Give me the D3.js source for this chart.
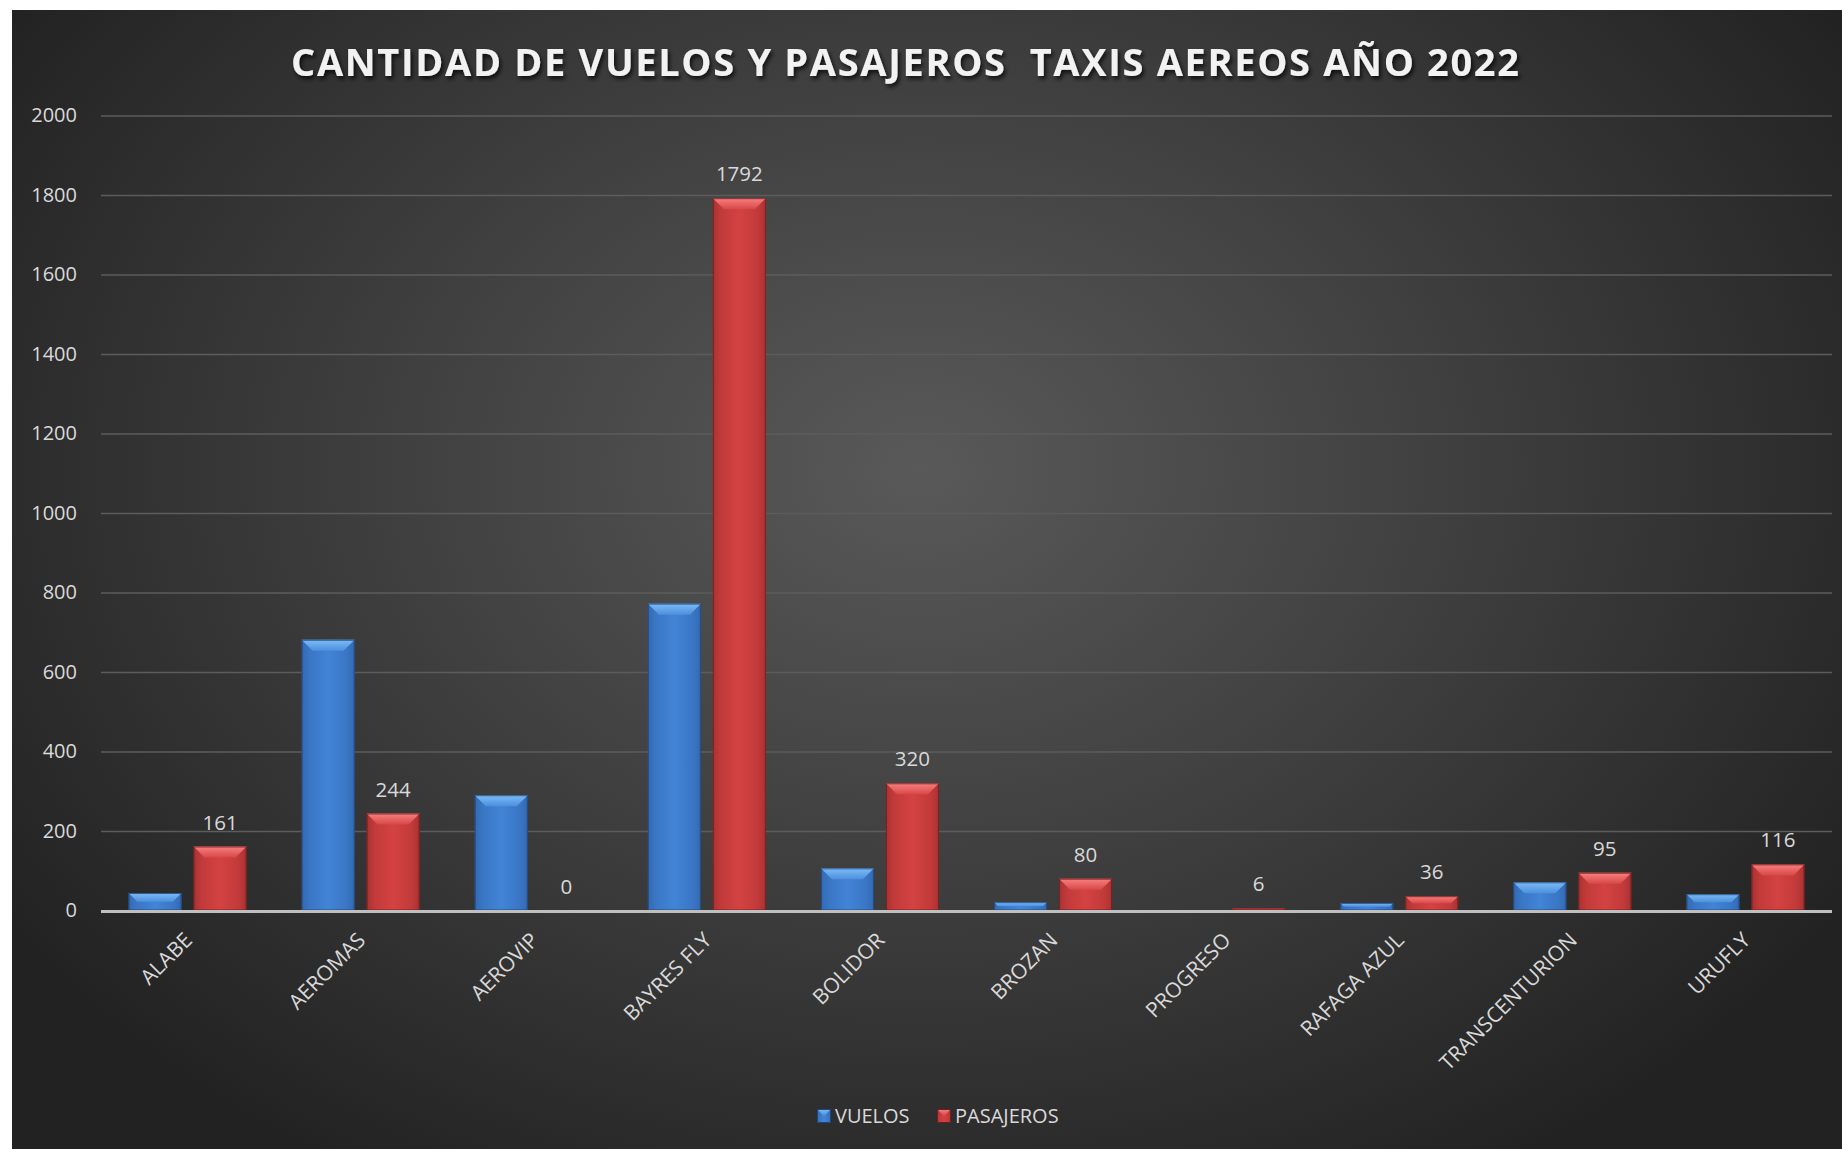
<!DOCTYPE html>
<html><head><meta charset="utf-8">
<script src="https://cdn.jsdelivr.net/npm/d3@7"></script>
<style>html,body{margin:0;padding:0;background:#fff;overflow:hidden}</style>
</head><body>
<svg id="chart" width="1842" height="1149"></svg>
<script>
const categories = ["ALABE","AEROMAS","AEROVIP","BAYRES FLY","BOLIDOR","BROZAN","PROGRESO","RAFAGA AZUL","TRANSCENTURION","URUFLY"];
const seriesNames = ["VUELOS","PASAJEROS"];
const vuelos = [44, 681, 290, 772, 106, 21, 1, 19, 71, 41];
const pasajeros = [161, 244, 0, 1792, 320, 80, 6, 36, 95, 116];
const yTicks = [0,200,400,600,800,1000,1200,1400,1600,1800,2000];
const titleText = "CANTIDAD DE VUELOS Y PASAJEROS  TAXIS AEREOS AÑO 2022";

(function(){
const W = 1842, H = 1149;
const svg = d3.select("#chart");
const defs = svg.append("defs");

const bg = defs.append("radialGradient").attr("id","bg")
  .attr("gradientUnits","userSpaceOnUse").attr("cx",920).attr("cy",470).attr("r",1100)
  .attr("gradientTransform","translate(920,470) scale(1,0.75) translate(-920,-470)");
bg.append("stop").attr("offset","0").attr("stop-color","#595959");
bg.append("stop").attr("offset","0.45").attr("stop-color","#414141");
bg.append("stop").attr("offset","1").attr("stop-color","#222222");
svg.append("rect").attr("x",12).attr("y",10).attr("width",W-12).attr("height",H-10).attr("fill","url(#bg)");

const shadow = defs.append("filter").attr("id","tshadow").attr("x","-5%").attr("y","-30%").attr("width","110%").attr("height","160%");
shadow.append("feDropShadow").attr("dx",2).attr("dy",3).attr("stdDeviation",2).attr("flood-color","#000").attr("flood-opacity",0.75);

const palettes = {
  VUELOS:   {body:["#3469b4","#4284d6","#3a76c4"], top:["#7cbcf8","#4c90dc"], edge:"#1f4577"},
  PASAJEROS:{body:["#a83232","#d44242","#c23a3a"], top:["#f88080","#d84848"], edge:"#6f1c1c"}
};
seriesNames.forEach(s=>{
  const p = palettes[s];
  const g = defs.append("linearGradient").attr("id","body-"+s).attr("x1",0).attr("x2",1).attr("y1",0).attr("y2",0);
  g.append("stop").attr("offset",0).attr("stop-color",p.body[0]);
  g.append("stop").attr("offset",0.15).attr("stop-color",p.body[2]);
  g.append("stop").attr("offset",0.5).attr("stop-color",p.body[1]);
  g.append("stop").attr("offset",0.85).attr("stop-color",p.body[2]);
  g.append("stop").attr("offset",1).attr("stop-color",p.body[0]);
  const t = defs.append("linearGradient").attr("id","top-"+s).attr("x1",0).attr("x2",0).attr("y1",0).attr("y2",1);
  t.append("stop").attr("offset",0).attr("stop-color",p.top[0]);
  t.append("stop").attr("offset",1).attr("stop-color",p.top[1]);
});

const pLeft = 101, pRight = 1832, pTop = 115.5, pBottom = 910.5;
const y = d3.scaleLinear().domain([0,2000]).range([pBottom, pTop]);
const x0 = d3.scaleBand().domain(categories).range([pLeft,pRight]);
const x1 = d3.scaleBand().domain(seriesNames)
  .range([x0.bandwidth()/2-59, x0.bandwidth()/2+59]).paddingInner(12/65).paddingOuter(0);

const grid = svg.append("g").attr("transform",`translate(${pLeft},0)`)
  .call(d3.axisLeft(y).tickValues(yTicks.filter(t=>t>0)).tickSize(-(pRight-pLeft)).tickFormat(""));
grid.select(".domain").remove();
grid.selectAll(".tick line").attr("stroke","#5c5c5c").attr("stroke-width",1.6);

const yAxis = svg.append("g").attr("transform",`translate(${pLeft},0)`)
  .call(d3.axisLeft(y).tickValues(yTicks).tickFormat(d3.format("d")).tickSize(0).tickPadding(24));
yAxis.select(".domain").remove();
yAxis.selectAll("text").attr("fill","#d9d9d9").attr("font-family","'Open Sans', sans-serif").attr("font-size",20);

const rows = categories.map((c,i)=>({cat:c, VUELOS:vuelos[i], PASAJEROS:pasajeros[i]}));
const barsG = svg.append("g");
rows.forEach(r=>{
  seriesNames.forEach(s=>{
    const v = r[s];
    if (v <= 0) return;
    const p = palettes[s];
    const bx = x0(r.cat) + x1(s), bw = x1.bandwidth();
    const by = y(v), bh = pBottom - y(v);
    const g = barsG.append("g");
    g.append("rect").attr("x",bx).attr("y",by).attr("width",bw).attr("height",bh)
      .attr("fill","url(#body-"+s+")");
    const b = Math.min(11, bh/2);
    const sb = b;
    g.append("path").attr("d",`M${bx},${by}L${bx+bw},${by}L${bx+bw-sb},${by+b}L${bx+sb},${by+b}Z`).attr("fill","url(#top-"+s+")");
    g.append("rect").attr("x",bx+0.5).attr("y",by+0.5).attr("width",Math.max(0,bw-1)).attr("height",Math.max(0,bh-1))
      .attr("fill","none").attr("stroke",p.edge).attr("stroke-width",1).attr("opacity",0.8);
  });
});

svg.append("line").attr("x1",pLeft).attr("x2",pRight).attr("y1",pBottom+1).attr("y2",pBottom+1)
  .attr("stroke","#bfbfbf").attr("stroke-width",3);

svg.append("g").selectAll("text").data(rows).join("text")
  .attr("x",d=>x0(d.cat)+x1("PASAJEROS")+x1.bandwidth()/2)
  .attr("y",d=>y(d.PASAJEROS)-17)
  .attr("text-anchor","middle").attr("fill","#d9d9d9")
  .attr("font-family","'Open Sans', sans-serif").attr("font-size",20.5)
  .text(d=>d.PASAJEROS);

const xAxis = svg.append("g").attr("transform",`translate(0,${pBottom})`)
  .call(d3.axisBottom(x0).tickSize(0).tickPadding(0));
xAxis.select(".domain").remove();
xAxis.selectAll("text")
  .attr("fill","#d9d9d9").attr("font-family","'Open Sans', sans-serif").attr("font-size",21)
  .attr("text-anchor","end").attr("dy",0).attr("y",0)
  .attr("transform","translate(6,31) rotate(-45)");

svg.append("text").attr("x",905).attr("y",76).attr("text-anchor","middle")
  .attr("fill","#f2f2f2").attr("font-family","'Open Sans', sans-serif").attr("font-weight",700)
  .attr("font-size",38).style("white-space","pre").attr("filter","url(#tshadow)")
  .attr("textLength",1228).attr("lengthAdjust","spacing")
  .text(titleText);

const legend = svg.append("g");
const legendItems = [{name:"VUELOS", x:817},{name:"PASAJEROS", x:937}];
legendItems.forEach(it=>{
  const p = palettes[it.name];
  const g = legend.append("g").attr("transform",`translate(${it.x},1109)`);
  g.append("rect").attr("width",14).attr("height",14).attr("fill","url(#body-"+it.name+")");
  g.append("path").attr("d","M0,0L14,0L7,7Z").attr("fill","url(#top-"+it.name+")");
  g.append("rect").attr("x",0.5).attr("y",0.5).attr("width",13).attr("height",13).attr("fill","none").attr("stroke",p.edge);
  g.append("text").attr("x",18).attr("y",14).attr("fill","#d9d9d9")
    .attr("font-family","'Open Sans', sans-serif").attr("font-size",20).text(it.name);
});
})();
</script>
</body></html>
